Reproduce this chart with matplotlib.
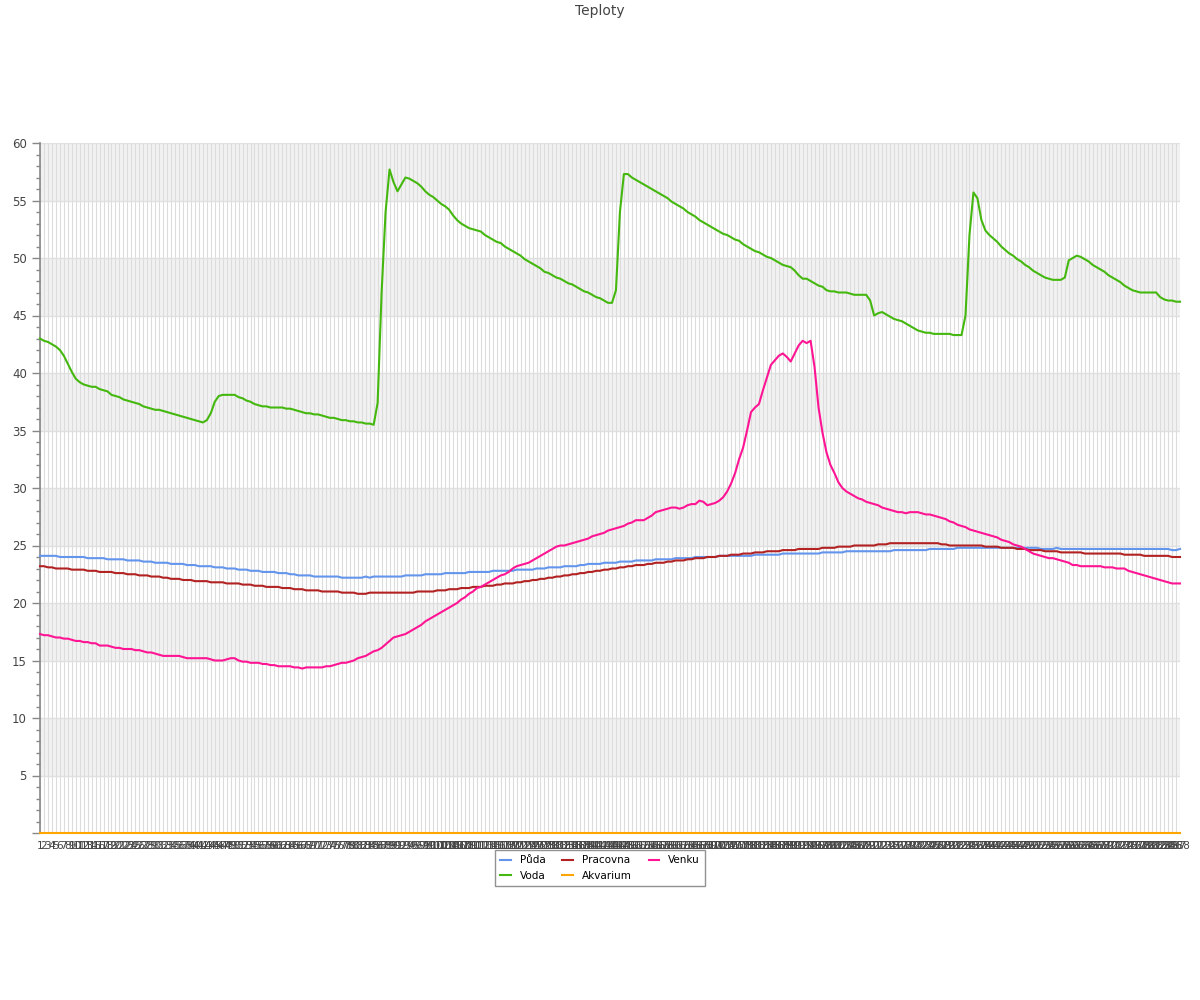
import matplotlib
matplotlib.use("Agg")
import matplotlib.pyplot as plt
from matplotlib.ticker import MultipleLocator

labels = [str(i) for i in range(1, 289)]

puda = [
24.1,24.1,24.1,24.1,24.1,24.0,24.0,24.0,24.0,24.0,
24.0,24.0,23.9,23.9,23.9,23.9,23.9,23.8,23.8,23.8,
23.8,23.8,23.7,23.7,23.7,23.7,23.6,23.6,23.6,23.5,
23.5,23.5,23.5,23.4,23.4,23.4,23.4,23.3,23.3,23.3,
23.2,23.2,23.2,23.2,23.1,23.1,23.1,23.0,23.0,23.0,
22.9,22.9,22.9,22.8,22.8,22.8,22.7,22.7,22.7,22.7,
22.6,22.6,22.6,22.5,22.5,22.4,22.4,22.4,22.4,22.3,
22.3,22.3,22.3,22.3,22.3,22.3,22.2,22.2,22.2,22.2,
22.2,22.2,22.3,22.2,22.3,22.3,22.3,22.3,22.3,22.3,
22.3,22.3,22.4,22.4,22.4,22.4,22.4,22.5,22.5,22.5,
22.5,22.5,22.6,22.6,22.6,22.6,22.6,22.6,22.7,22.7,
22.7,22.7,22.7,22.7,22.8,22.8,22.8,22.8,22.8,22.8,
22.9,22.9,22.9,22.9,22.9,23.0,23.0,23.0,23.1,23.1,
23.1,23.1,23.2,23.2,23.2,23.2,23.3,23.3,23.4,23.4,
23.4,23.4,23.5,23.5,23.5,23.5,23.6,23.6,23.6,23.6,
23.7,23.7,23.7,23.7,23.7,23.8,23.8,23.8,23.8,23.8,
23.9,23.9,23.9,23.9,23.9,24.0,24.0,24.0,24.0,24.0,
24.0,24.1,24.1,24.1,24.1,24.1,24.1,24.1,24.1,24.1,
24.2,24.2,24.2,24.2,24.2,24.2,24.2,24.3,24.3,24.3,
24.3,24.3,24.3,24.3,24.3,24.3,24.3,24.4,24.4,24.4,
24.4,24.4,24.4,24.5,24.5,24.5,24.5,24.5,24.5,24.5,
24.5,24.5,24.5,24.5,24.5,24.6,24.6,24.6,24.6,24.6,
24.6,24.6,24.6,24.6,24.7,24.7,24.7,24.7,24.7,24.7,
24.7,24.8,24.8,24.8,24.8,24.8,24.8,24.8,24.8,24.8,
24.8,24.8,24.8,24.8,24.8,24.8,24.8,24.8,24.8,24.8,
24.8,24.8,24.7,24.7,24.7,24.7,24.8,24.7,24.7,24.7,
24.7,24.7,24.7,24.7,24.7,24.7,24.7,24.7,24.7,24.7,
24.7,24.7,24.7,24.7,24.7,24.7,24.7,24.7,24.7,24.7,
24.7,24.7,24.7,24.7,24.7,24.6,24.6,24.7,
]

voda = [
43.0,42.8,42.7,42.5,42.3,42.0,41.5,40.8,40.1,39.5,
39.2,39.0,38.9,38.8,38.8,38.6,38.5,38.4,38.1,38.0,
37.9,37.7,37.6,37.5,37.4,37.3,37.1,37.0,36.9,36.8,
36.8,36.7,36.6,36.5,36.4,36.3,36.2,36.1,36.0,35.9,
35.8,35.7,35.9,36.5,37.5,38.0,38.1,38.1,38.1,38.1,
37.9,37.8,37.6,37.5,37.3,37.2,37.1,37.1,37.0,37.0,
37.0,37.0,36.9,36.9,36.8,36.7,36.6,36.5,36.5,36.4,
36.4,36.3,36.2,36.1,36.1,36.0,35.9,35.9,35.8,35.8,
35.7,35.7,35.6,35.6,35.5,37.4,47.0,54.0,57.7,56.6,
55.8,56.4,57.0,56.9,56.7,56.5,56.2,55.8,55.5,55.3,
55.0,54.7,54.5,54.2,53.7,53.3,53.0,52.8,52.6,52.5,
52.4,52.3,52.0,51.8,51.6,51.4,51.3,51.0,50.8,50.6,
50.4,50.2,49.9,49.7,49.5,49.3,49.1,48.8,48.7,48.5,
48.3,48.2,48.0,47.8,47.7,47.5,47.3,47.1,47.0,46.8,
46.6,46.5,46.3,46.1,46.1,47.2,54.0,57.3,57.3,57.0,
56.8,56.6,56.4,56.2,56.0,55.8,55.6,55.4,55.2,54.9,
54.7,54.5,54.3,54.0,53.8,53.6,53.3,53.1,52.9,52.7,
52.5,52.3,52.1,52.0,51.8,51.6,51.5,51.2,51.0,50.8,
50.6,50.5,50.3,50.1,50.0,49.8,49.6,49.4,49.3,49.2,
48.9,48.5,48.2,48.2,48.0,47.8,47.6,47.5,47.2,47.1,
47.1,47.0,47.0,47.0,46.9,46.8,46.8,46.8,46.8,46.3,
45.0,45.2,45.3,45.1,44.9,44.7,44.6,44.5,44.3,44.1,
43.9,43.7,43.6,43.5,43.5,43.4,43.4,43.4,43.4,43.4,
43.3,43.3,43.3,45.0,52.0,55.7,55.2,53.3,52.4,52.0,
51.7,51.4,51.0,50.7,50.4,50.2,49.9,49.7,49.4,49.2,
48.9,48.7,48.5,48.3,48.2,48.1,48.1,48.1,48.3,49.8,
50.0,50.2,50.1,49.9,49.7,49.4,49.2,49.0,48.8,48.5,
48.3,48.1,47.9,47.6,47.4,47.2,47.1,47.0,47.0,47.0,
47.0,47.0,46.6,46.4,46.3,46.3,46.2,46.2,
]

pracovna = [
23.2,23.2,23.1,23.1,23.0,23.0,23.0,23.0,22.9,22.9,
22.9,22.9,22.8,22.8,22.8,22.7,22.7,22.7,22.7,22.6,
22.6,22.6,22.5,22.5,22.5,22.4,22.4,22.4,22.3,22.3,
22.3,22.2,22.2,22.1,22.1,22.1,22.0,22.0,22.0,21.9,
21.9,21.9,21.9,21.8,21.8,21.8,21.8,21.7,21.7,21.7,
21.7,21.6,21.6,21.6,21.5,21.5,21.5,21.4,21.4,21.4,
21.4,21.3,21.3,21.3,21.2,21.2,21.2,21.1,21.1,21.1,
21.1,21.0,21.0,21.0,21.0,21.0,20.9,20.9,20.9,20.9,
20.8,20.8,20.8,20.9,20.9,20.9,20.9,20.9,20.9,20.9,
20.9,20.9,20.9,20.9,20.9,21.0,21.0,21.0,21.0,21.0,
21.1,21.1,21.1,21.2,21.2,21.2,21.3,21.3,21.3,21.4,
21.4,21.4,21.5,21.5,21.5,21.6,21.6,21.7,21.7,21.7,
21.8,21.8,21.9,21.9,22.0,22.0,22.1,22.1,22.2,22.2,
22.3,22.3,22.4,22.4,22.5,22.5,22.6,22.6,22.7,22.7,
22.8,22.8,22.9,22.9,23.0,23.0,23.1,23.1,23.2,23.2,
23.3,23.3,23.3,23.4,23.4,23.5,23.5,23.5,23.6,23.6,
23.7,23.7,23.7,23.8,23.8,23.9,23.9,23.9,24.0,24.0,
24.0,24.1,24.1,24.1,24.2,24.2,24.2,24.3,24.3,24.3,
24.4,24.4,24.4,24.5,24.5,24.5,24.5,24.6,24.6,24.6,
24.6,24.7,24.7,24.7,24.7,24.7,24.7,24.8,24.8,24.8,
24.8,24.9,24.9,24.9,24.9,25.0,25.0,25.0,25.0,25.0,
25.0,25.1,25.1,25.1,25.2,25.2,25.2,25.2,25.2,25.2,
25.2,25.2,25.2,25.2,25.2,25.2,25.2,25.1,25.1,25.0,
25.0,25.0,25.0,25.0,25.0,25.0,25.0,25.0,24.9,24.9,
24.9,24.9,24.8,24.8,24.8,24.8,24.7,24.7,24.7,24.6,
24.6,24.6,24.6,24.5,24.5,24.5,24.5,24.4,24.4,24.4,
24.4,24.4,24.4,24.3,24.3,24.3,24.3,24.3,24.3,24.3,
24.3,24.3,24.3,24.2,24.2,24.2,24.2,24.2,24.1,24.1,
24.1,24.1,24.1,24.1,24.1,24.0,24.0,24.0,
]

akvarium = [0.0] * 288

venku = [
17.3,17.2,17.2,17.1,17.0,17.0,16.9,16.9,16.8,16.7,
16.7,16.6,16.6,16.5,16.5,16.3,16.3,16.3,16.2,16.1,
16.1,16.0,16.0,16.0,15.9,15.9,15.8,15.7,15.7,15.6,
15.5,15.4,15.4,15.4,15.4,15.4,15.3,15.2,15.2,15.2,
15.2,15.2,15.2,15.1,15.0,15.0,15.0,15.1,15.2,15.2,
15.0,14.9,14.9,14.8,14.8,14.8,14.7,14.7,14.6,14.6,
14.5,14.5,14.5,14.5,14.4,14.4,14.3,14.4,14.4,14.4,
14.4,14.4,14.5,14.5,14.6,14.7,14.8,14.8,14.9,15.0,
15.2,15.3,15.4,15.6,15.8,15.9,16.1,16.4,16.7,17.0,
17.1,17.2,17.3,17.5,17.7,17.9,18.1,18.4,18.6,18.8,
19.0,19.2,19.4,19.6,19.8,20.0,20.3,20.5,20.8,21.0,
21.3,21.4,21.6,21.8,22.0,22.2,22.4,22.5,22.7,23.0,
23.2,23.3,23.4,23.5,23.7,23.9,24.1,24.3,24.5,24.7,
24.9,25.0,25.0,25.1,25.2,25.3,25.4,25.5,25.6,25.8,
25.9,26.0,26.1,26.3,26.4,26.5,26.6,26.7,26.9,27.0,
27.2,27.2,27.2,27.4,27.6,27.9,28.0,28.1,28.2,28.3,
28.3,28.2,28.3,28.5,28.6,28.6,28.9,28.8,28.5,28.6,
28.7,28.9,29.2,29.7,30.4,31.3,32.5,33.5,35.0,36.6,
37.0,37.3,38.5,39.6,40.7,41.1,41.5,41.7,41.4,41.0,
41.7,42.4,42.8,42.6,42.8,40.5,37.0,34.8,33.1,32.0,
31.3,30.5,30.0,29.7,29.5,29.3,29.1,29.0,28.8,28.7,
28.6,28.5,28.3,28.2,28.1,28.0,27.9,27.9,27.8,27.9,
27.9,27.9,27.8,27.7,27.7,27.6,27.5,27.4,27.3,27.1,
27.0,26.8,26.7,26.6,26.4,26.3,26.2,26.1,26.0,25.9,
25.8,25.7,25.5,25.4,25.3,25.1,25.0,24.9,24.7,24.5,
24.3,24.2,24.1,24.0,23.9,23.9,23.8,23.7,23.6,23.5,
23.3,23.3,23.2,23.2,23.2,23.2,23.2,23.2,23.1,23.1,
23.1,23.0,23.0,23.0,22.8,22.7,22.6,22.5,22.4,22.3,
22.2,22.1,22.0,21.9,21.8,21.7,21.7,21.7,
]

series_names = ["Půda", "Voda", "Pracovna", "Akvarium", "Venku"]
series_values = [puda, voda, pracovna, akvarium, venku]
series_colors = ["#6495ED", "#44B80E", "#B22222", "#FFA500", "#FF1493"]

fig = plt.figure(figsize=(12, 10), dpi=100)
ax = fig.add_axes([40/1200, 1-833/1000, 1140/1200, 690/1000])

x = list(range(len(labels)))

# alternating bands
for lo in range(5, 60, 10):
    ax.axhspan(lo, lo + 5, color="#F2F2F2", zorder=0, lw=0)
# vertical category gridlines
for xi in x:
    ax.axvline(xi, color="#DCDCDC", lw=0.8, zorder=0.5)
# horizontal gridlines
for yv in range(5, 61, 5):
    ax.axhline(yv, color="#E0E0E0", lw=1.0, zorder=0.6)

for name, vals, col in zip(series_names, series_values, series_colors):
    ax.plot(x, vals, color=col, lw=1.5, label=name, zorder=3, clip_on=False)

ax.set_xlim(0, len(labels) - 1)
ax.set_ylim(0, 60)
ax.set_xticks(x)
ax.set_xticklabels(labels, fontsize=7.5, color="#444444")
ax.tick_params(axis="x", length=0, pad=6)
yt = list(range(0, 61, 5))
ax.set_yticks(yt)
ax.yaxis.set_minor_locator(MultipleLocator(1))
ax.set_yticklabels(["" if v == 0 else str(v) for v in yt], fontsize=8.5, color="#444444")
ax.tick_params(axis="y", which="major", length=6, color="#888888", width=1)
ax.tick_params(axis="y", which="minor", length=3, color="#888888", width=1)

for s in ["top", "right"]:
    ax.spines[s].set_visible(False)
ax.spines["left"].set_color("#888888")
ax.spines["bottom"].set_color("#888888")
ax.spines["left"].set_linewidth(1.2)
ax.spines["bottom"].set_linewidth(1.2)

fig.text(0.5, 1 - 11/1000, "Teploty", ha="center", va="center", fontsize=10, color="#444444")

leg = ax.legend(loc="upper center", bbox_to_anchor=((600 - 40) / 1140, -0.017), ncol=3, fontsize=7.5,
                frameon=True, fancybox=False, handlelength=1.05, handletextpad=0.85,
                columnspacing=1.6, borderpad=0.5, labelspacing=0.55, borderaxespad=0.5)
leg.get_frame().set_edgecolor("#777777")
leg.get_frame().set_linewidth(1.0)

fig.savefig("out.png", dpi=100)
